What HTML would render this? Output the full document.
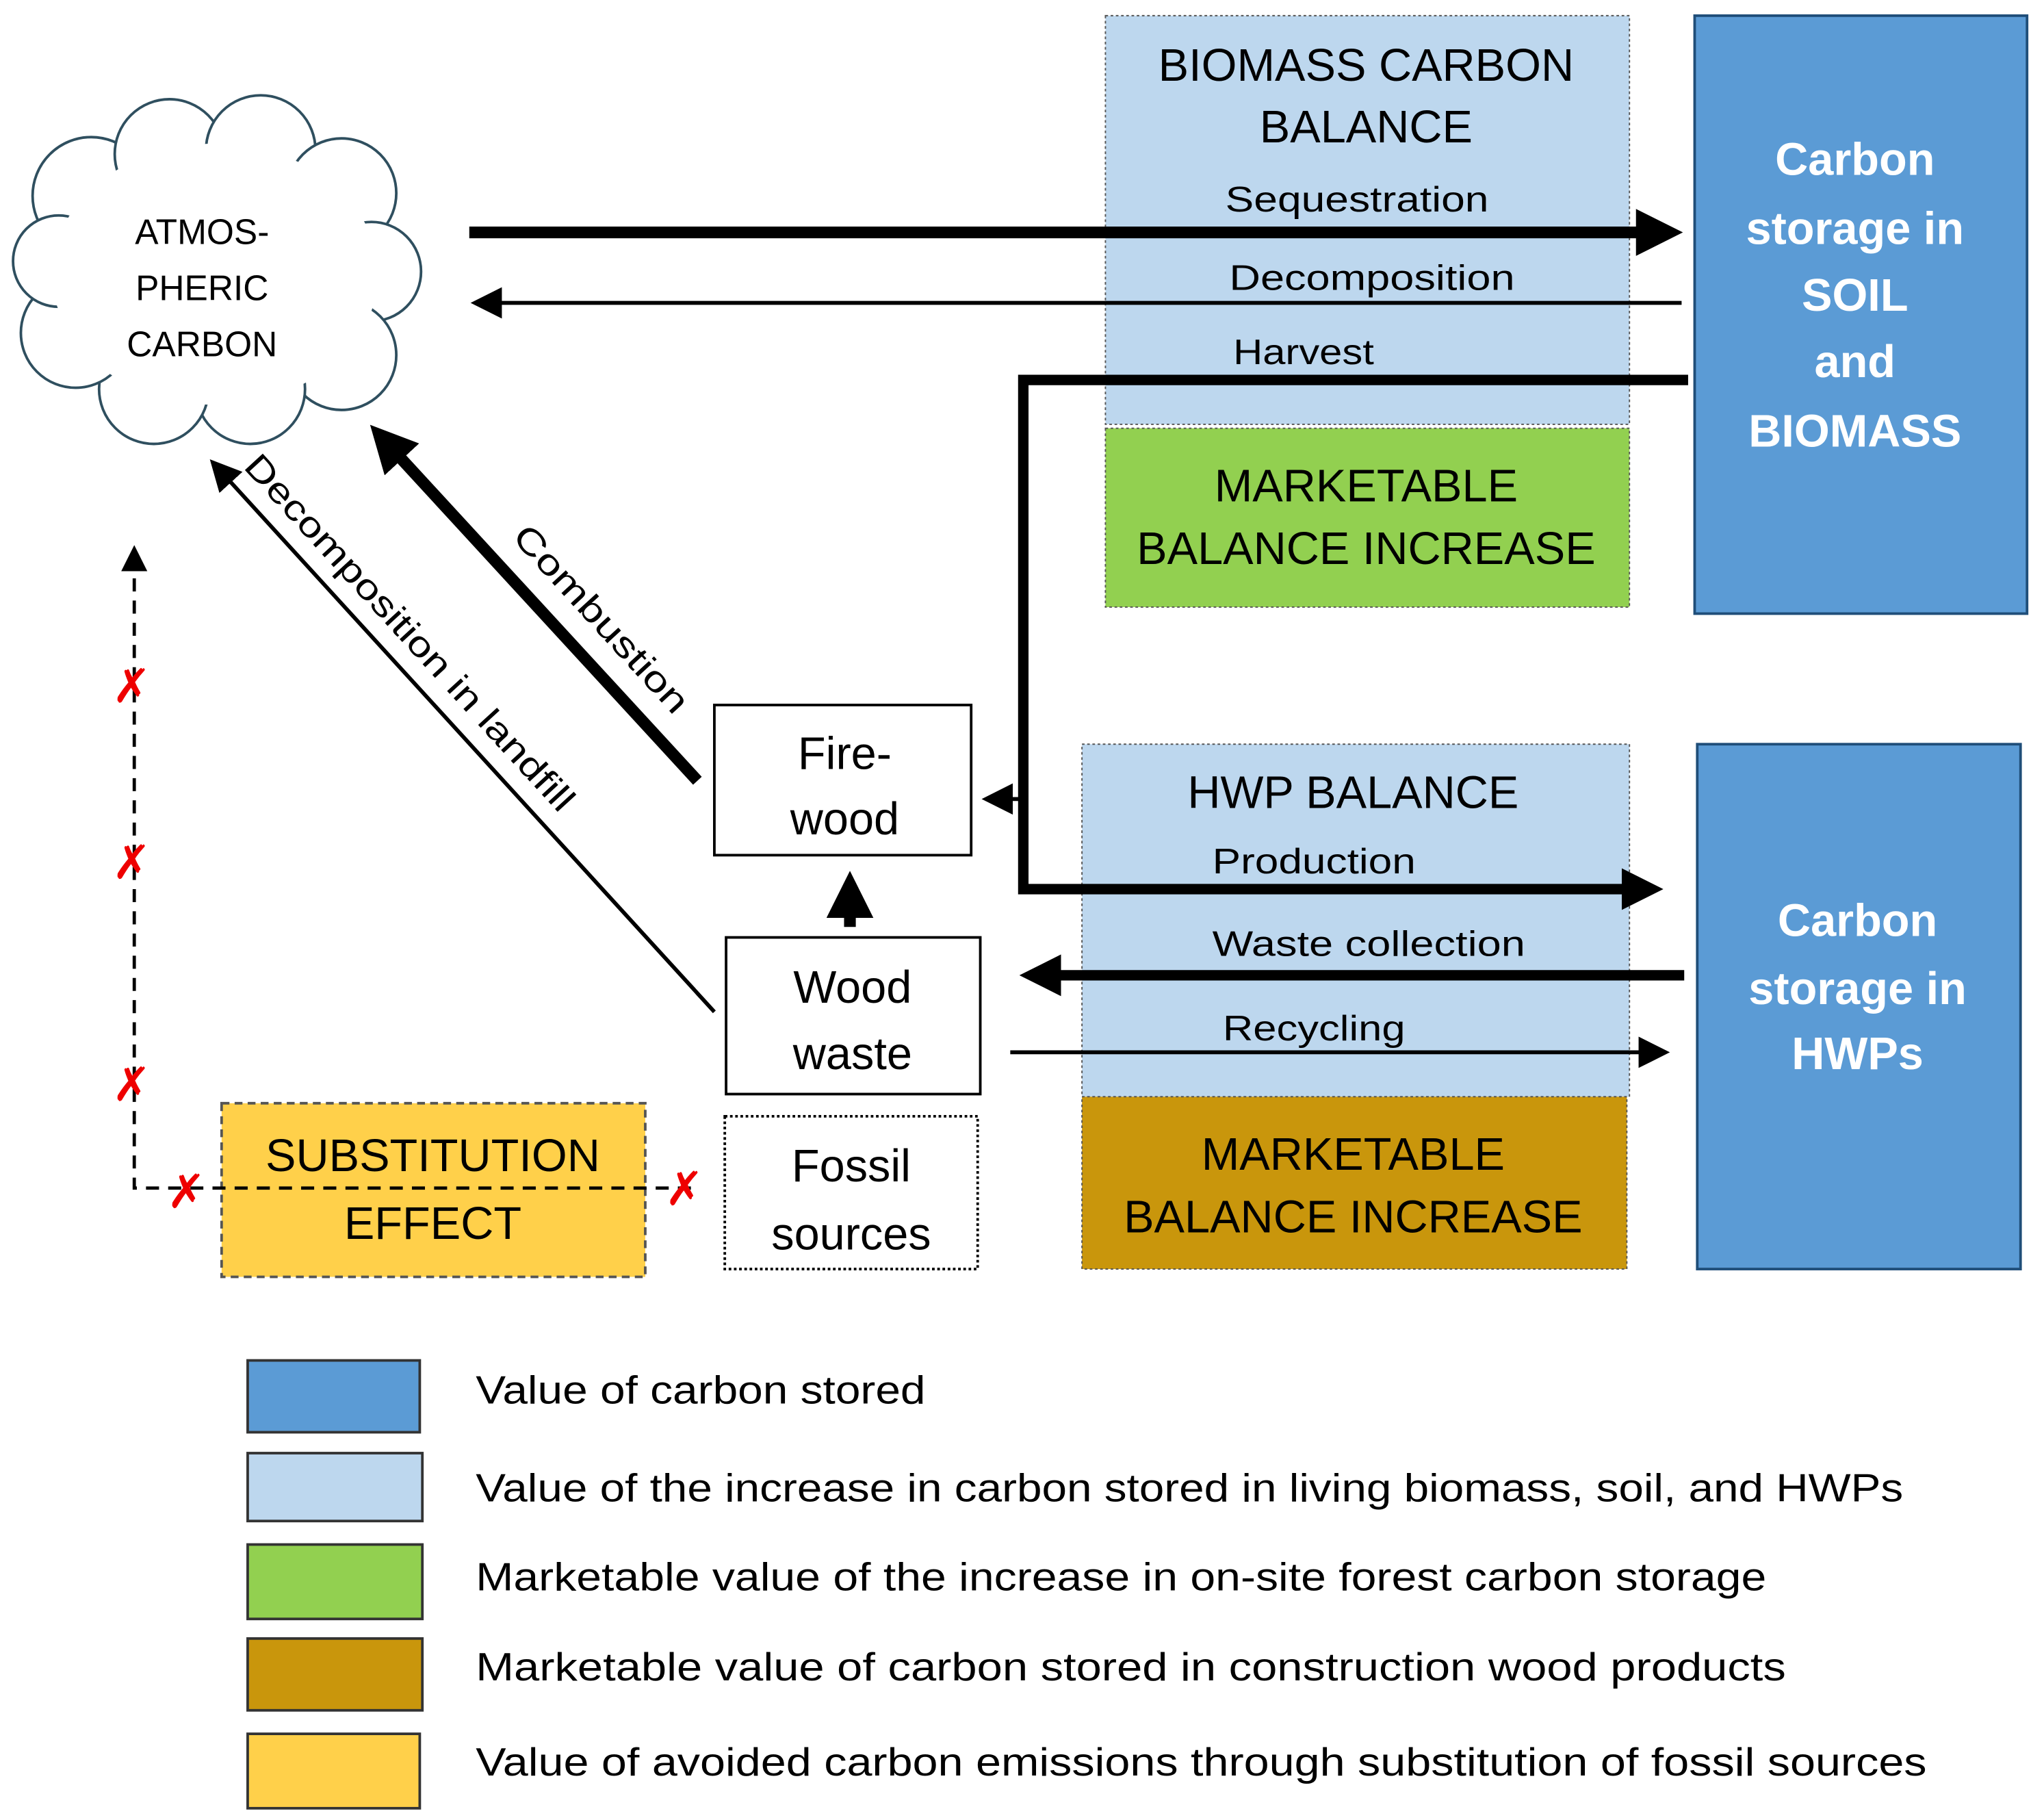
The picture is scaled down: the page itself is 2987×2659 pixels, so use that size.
<!DOCTYPE html>
<html><head><meta charset="utf-8"><style>
html,body{margin:0;padding:0;background:#fff;}
svg{display:block;}
text{font-family:"Liberation Sans",sans-serif;fill:#000;}
text.w{fill:#fff;}
text.r{fill:#e00;}
</style></head><body>
<svg width="2987" height="2659" viewBox="0 0 1568 1394" preserveAspectRatio="none" xmlns="http://www.w3.org/2000/svg">
<defs>
<marker id="ah" markerWidth="4" markerHeight="4" refX="3" refY="2" orient="auto" markerUnits="strokeWidth"><path d="M0,0 L4,2 L0,4 z" fill="#000"/></marker>
<marker id="ah2" markerWidth="8" markerHeight="8" refX="7" refY="4" orient="auto" markerUnits="strokeWidth"><path d="M0,0 L8,4 L0,8 z" fill="#000"/></marker>
</defs>
<!-- cloud -->
<g fill="#fff" stroke="#2f4f5f" stroke-width="2">
<circle cx="70" cy="150" r="45"/><circle cx="130" cy="118" r="42"/><circle cx="200" cy="115" r="42"/><circle cx="262" cy="148" r="42"/><circle cx="285" cy="208" r="38"/><circle cx="262" cy="272" r="42"/><circle cx="192" cy="298" r="42"/><circle cx="118" cy="298" r="42"/><circle cx="58" cy="255" r="42"/><circle cx="45" cy="200" r="35"/>
</g>
<ellipse cx="165" cy="210" rx="125" ry="100" fill="#fff"/>
<g font-size="27" text-anchor="middle"><text x="155" y="187">ATMOS-</text><text x="155" y="230">PHERIC</text><text x="155" y="273">CARBON</text></g>

<!-- boxes -->
<rect x="848" y="12" width="402" height="313" fill="#bdd7ee" stroke="#555" stroke-dasharray="2,2"/>
<rect x="848" y="328" width="402" height="137" fill="#92d050" stroke="#555" stroke-dasharray="2,2"/>
<rect x="1300" y="12" width="255" height="458" fill="#5b9bd5" stroke="#1f4e79" stroke-width="2"/>
<rect x="830" y="570" width="420" height="270" fill="#bdd7ee" stroke="#555" stroke-dasharray="2,2"/>
<rect x="830" y="840" width="418" height="132" fill="#c9960c" stroke="#555" stroke-dasharray="2,2"/>
<rect x="1302" y="570" width="248" height="402" fill="#5b9bd5" stroke="#1f4e79" stroke-width="2"/>
<rect x="548" y="540" width="197" height="115" fill="#fff" stroke="#000" stroke-width="2"/>
<rect x="557" y="718" width="195" height="120" fill="#fff" stroke="#000" stroke-width="2"/>
<rect x="556" y="855" width="194" height="117" fill="#fff" stroke="#000" stroke-width="2" stroke-dasharray="2,2"/>
<rect x="170" y="845" width="325" height="133" fill="#ffd04a" stroke="#555" stroke-width="2" stroke-dasharray="6,4"/>

<g font-size="35" text-anchor="middle">
<text x="1048" y="62">BIOMASS CARBON</text><text x="1048" y="109">BALANCE</text>
<text x="1048" y="384">MARKETABLE</text><text x="1048" y="432">BALANCE INCREASE</text>
<text x="1038" y="619">HWP BALANCE</text>
<text x="1038" y="896">MARKETABLE</text><text x="1038" y="944">BALANCE INCREASE</text>
<text x="648" y="589">Fire-</text><text x="648" y="639">wood</text>
<text x="654" y="768">Wood</text><text x="654" y="819">waste</text>
<text x="653" y="905">Fossil</text><text x="653" y="957">sources</text>
<text x="332" y="897">SUBSTITUTION</text><text x="332" y="949">EFFECT</text>
</g>
<g font-size="35" font-weight="bold" text-anchor="middle">
<text class="w" x="1423" y="134">Carbon</text><text class="w" x="1423" y="187">storage in</text><text class="w" x="1423" y="238">SOIL</text><text class="w" x="1423" y="289">and</text><text class="w" x="1423" y="342">BIOMASS</text>
<text class="w" x="1425" y="717">Carbon</text><text class="w" x="1425" y="769">storage in</text><text class="w" x="1425" y="819">HWPs</text>
</g>
<g font-size="27">
<text x="940" y="162" textLength="202" lengthAdjust="spacingAndGlyphs">Sequestration</text>
<text x="943" y="222" textLength="219" lengthAdjust="spacingAndGlyphs">Decomposition</text>
<text x="946" y="279" textLength="108" lengthAdjust="spacingAndGlyphs">Harvest</text>
<text x="930" y="669" textLength="156" lengthAdjust="spacingAndGlyphs">Production</text>
<text x="930" y="732" textLength="240" lengthAdjust="spacingAndGlyphs">Waste collection</text>
<text x="938" y="797" textLength="140" lengthAdjust="spacingAndGlyphs">Recycling</text>
</g>

<!-- arrows -->
<g stroke="#000" fill="none">
<line x1="360" y1="178" x2="1282" y2="178" stroke-width="9" marker-end="url(#ah)"/>
<line x1="1290" y1="232" x2="364" y2="232" stroke-width="3" marker-end="url(#ah2)"/>
<polyline points="1295,291 785,291 785,681 1268,681" stroke-width="8" marker-end="url(#ah)"/>
<line x1="785" y1="612" x2="756" y2="612" stroke-width="3" marker-end="url(#ah2)"/>
<line x1="1292" y1="747" x2="790" y2="747" stroke-width="8" marker-end="url(#ah)"/>
<line x1="775" y1="806" x2="1278" y2="806" stroke-width="3" marker-end="url(#ah2)"/>
<line x1="652" y1="710" x2="652" y2="676" stroke-width="9" marker-end="url(#ah)"/>
<line x1="535" y1="598" x2="290" y2="332" stroke-width="9" marker-end="url(#ah)"/>
<line x1="548" y1="775" x2="163" y2="354" stroke-width="3" marker-end="url(#ah2)"/>
<polyline points="530,910 103,910 103,420" stroke-width="2.5" stroke-dasharray="10,7" marker-end="url(#ah2)"/>
</g>
<g font-size="27">
<text transform="translate(392,412) rotate(47.5)" textLength="185" lengthAdjust="spacingAndGlyphs">Combustion</text>
<text transform="translate(186,358) rotate(47.5)" textLength="360" lengthAdjust="spacingAndGlyphs">Decomposition in landfill</text>
</g>
<g font-size="36" text-anchor="middle">
<text class="r" x="101" y="538">✗</text><text class="r" x="101" y="673">✗</text><text class="r" x="101" y="843">✗</text><text class="r" x="143" y="925">✗</text><text class="r" x="525" y="923">✗</text>
</g>

<!-- legend -->
<rect x="190" y="1042" width="132" height="55" fill="#5b9bd5" stroke="#333" stroke-width="2"/>
<rect x="190" y="1113" width="134" height="52" fill="#bdd7ee" stroke="#333" stroke-width="2"/>
<rect x="190" y="1183" width="134" height="57" fill="#92d050" stroke="#333" stroke-width="2"/>
<rect x="190" y="1255" width="134" height="55" fill="#c9960c" stroke="#333" stroke-width="2"/>
<rect x="190" y="1328" width="132" height="57" fill="#ffd04a" stroke="#333" stroke-width="2"/>
<g font-size="30">
<text x="365" y="1075" textLength="345" lengthAdjust="spacingAndGlyphs">Value of carbon stored</text>
<text x="365" y="1150" textLength="1095" lengthAdjust="spacingAndGlyphs">Value of the increase in carbon stored in living biomass, soil, and HWPs</text>
<text x="365" y="1218" textLength="990" lengthAdjust="spacingAndGlyphs">Marketable value of the increase in on-site forest carbon storage</text>
<text x="365" y="1287" textLength="1005" lengthAdjust="spacingAndGlyphs">Marketable value of carbon stored in construction wood products</text>
<text x="365" y="1360" textLength="1113" lengthAdjust="spacingAndGlyphs">Value of avoided carbon emissions through substitution of fossil sources</text>
</g>
</svg>
</body></html>
